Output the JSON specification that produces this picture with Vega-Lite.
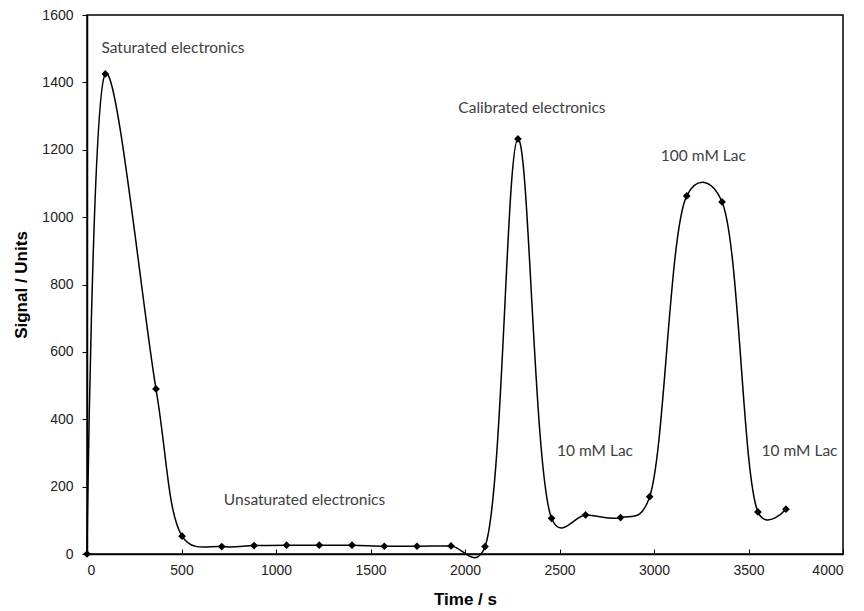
{
  "$schema": "https://vega.github.io/schema/vega-lite/v6.json",
  "width": 756,
  "height": 539,
  "autosize": "none",
  "padding": {"left": 87, "top": 15, "right": 21, "bottom": 57},
  "background": "white",
  "config": {
    "view": {"stroke": "#000000", "strokeWidth": 1.5},
    "axis": {"grid": false, "domainColor": "#000000", "domainWidth": 1.5, "tickColor": "#000000", "labelColor": "#222222", "labelFont": "Liberation Sans", "labelFontSize": 14, "titleFont": "Liberation Sans", "titleFontSize": 17, "titleFontWeight": "bold", "titleColor": "#000000"}
  },
  "datasets": {
    "signal": [
      {"t": 0, "v": 0},
      {"t": 97, "v": 1425},
      {"t": 365, "v": 490},
      {"t": 503, "v": 53},
      {"t": 713, "v": 22},
      {"t": 884, "v": 25},
      {"t": 1056, "v": 26},
      {"t": 1229, "v": 26},
      {"t": 1402, "v": 26},
      {"t": 1573, "v": 23},
      {"t": 1746, "v": 23},
      {"t": 1926, "v": 24},
      {"t": 2106, "v": 22},
      {"t": 2280, "v": 1232},
      {"t": 2458, "v": 106},
      {"t": 2638, "v": 116},
      {"t": 2823, "v": 108},
      {"t": 2977, "v": 170},
      {"t": 3173, "v": 1063},
      {"t": 3360, "v": 1045},
      {"t": 3550, "v": 125},
      {"t": 3698, "v": 133}
    ],
    "notes": [
      {"t": 455, "v": 1503, "label": "Saturated electronics"},
      {"t": 1151, "v": 160, "label": "Unsaturated electronics"},
      {"t": 2354, "v": 1325, "label": "Calibrated electronics"},
      {"t": 3261, "v": 1180, "label": "100 mM Lac"},
      {"t": 2688, "v": 307, "label": "10 mM Lac"},
      {"t": 3770, "v": 307, "label": "10 mM Lac"}
    ]
  },
  "layer": [
    {
      "data": {"name": "signal"},
      "mark": {"type": "line", "interpolate": "catmull-rom", "tension": 0.25, "color": "#000000", "strokeWidth": 1.5},
      "encoding": {
        "x": {"field": "t", "type": "quantitative", "scale": {"domain": [0, 4000], "nice": false}, "axis": {"title": "Time / s", "format": "d", "values": [0, 500, 1000, 1500, 2000, 2500, 3000, 3500, 4000], "tickSize": -5, "labelPadding": 14, "titlePadding": 14}},
        "y": {"field": "v", "type": "quantitative", "scale": {"domain": [0, 1600], "nice": false}, "axis": {"title": "Signal / Units", "format": "d", "values": [0, 200, 400, 600, 800, 1000, 1200, 1400, 1600], "tickSize": 5, "labelPadding": 9, "titlePadding": 11}}
      }
    },
    {
      "data": {"name": "signal"},
      "mark": {"type": "point", "shape": "diamond", "filled": true, "color": "#000000", "size": 60, "opacity": 1},
      "encoding": {
        "x": {"field": "t", "type": "quantitative"},
        "y": {"field": "v", "type": "quantitative"}
      }
    },
    {
      "data": {"name": "notes"},
      "mark": {"type": "text", "font": "Lato", "fontSize": 15.5, "color": "#404040", "align": "center", "baseline": "middle"},
      "encoding": {
        "x": {"field": "t", "type": "quantitative"},
        "y": {"field": "v", "type": "quantitative"},
        "text": {"field": "label"}
      }
    }
  ]
}
